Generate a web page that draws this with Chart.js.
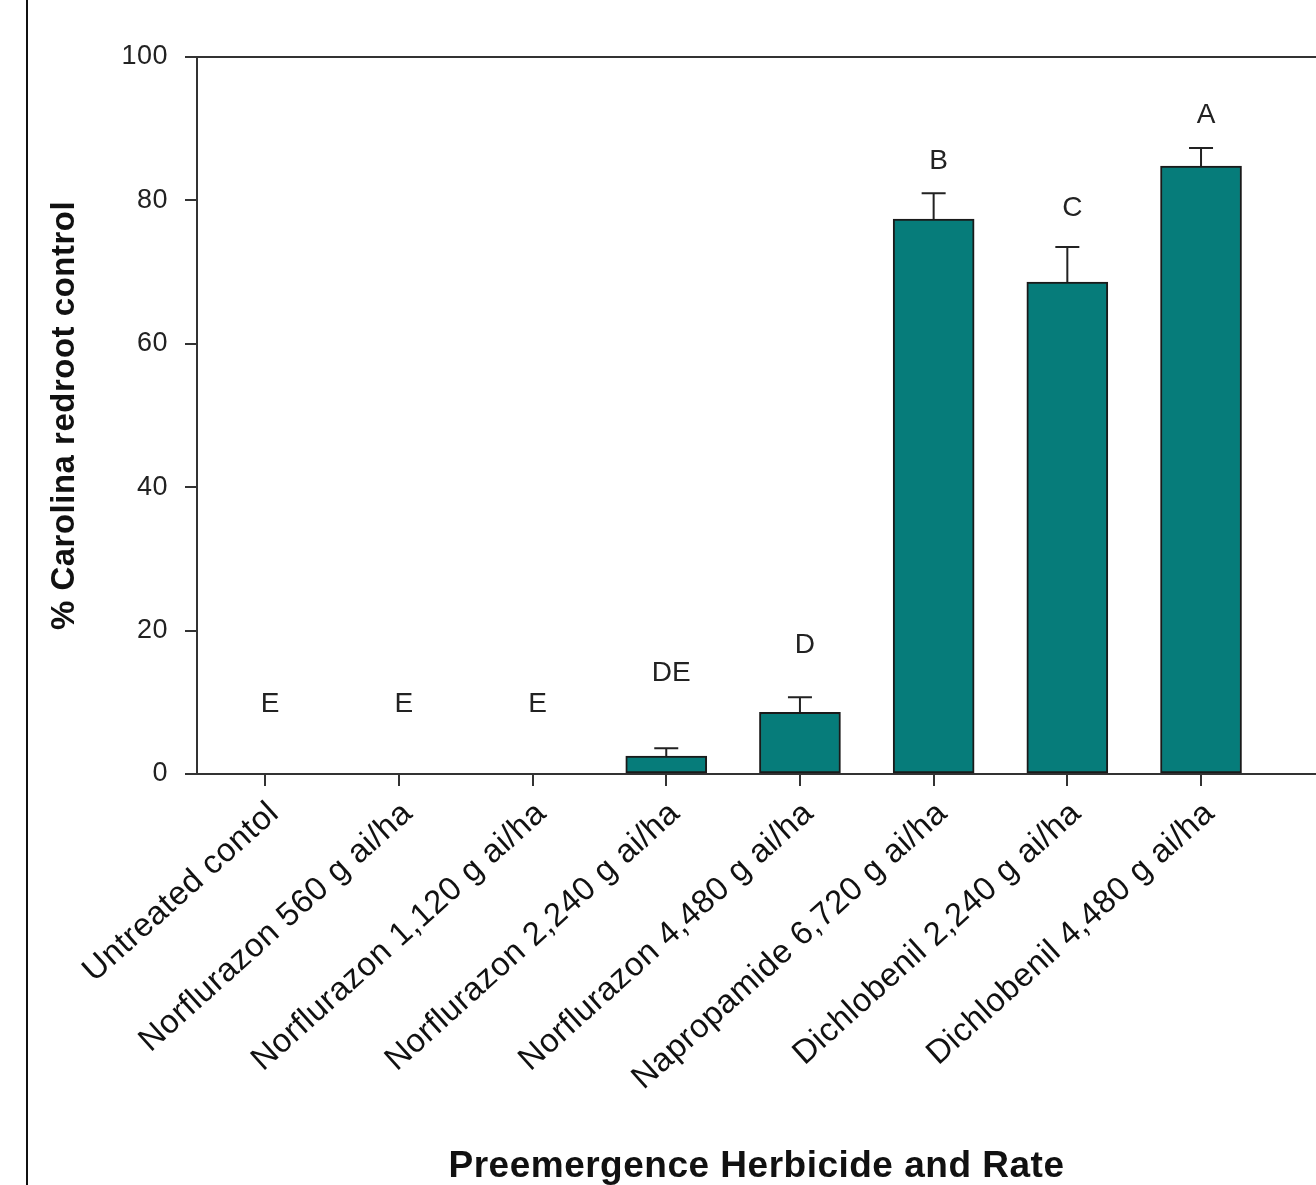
<!DOCTYPE html>
<html><head><meta charset="utf-8">
<script src="https://cdn.jsdelivr.net/npm/chart.js@4"></script>
<style>html,body{margin:0;padding:0;background:#fff}#wrap{width:1316px;height:1185px;position:relative}</style>
</head><body><div id="wrap"><canvas id="c"></canvas></div>
<script>
const categories = ['Untreated contol','Norflurazon 560 g ai/ha','Norflurazon 1,120 g ai/ha','Norflurazon 2,240 g ai/ha','Norflurazon 4,480 g ai/ha','Napropamide 6,720 g ai/ha','Dichlobenil 2,240 g ai/ha','Dichlobenil 4,480 g ai/ha'];
const means = [0, 0, 0, 2.5, 8.6, 77.4, 68.6, 84.8];
const errors = [0, 0, 0, 1.1, 2.1, 3.6, 4.9, 2.5];
const letters = ['E', 'E', 'E', 'DE', 'D', 'B', 'C', 'A'];
const letterY = [9.7, 9.7, 9.7, 14.1, 18.0, 85.4, 78.9, 91.9];
const yTicks = [0, 20, 40, 60, 80, 100];

const FONT = "'Liberation Sans', Arial, sans-serif";
const LINE = '#333333';

const decor = {
  id: 'decor',
  beforeDraw(chart) { chart.ctx.letterSpacing = '0.5px'; },
  beforeDatasetsDraw(chart) { chart.ctx.letterSpacing = '0px'; },
  afterDatasetsDraw(chart) {
    const {ctx, scales: {x, y}} = chart;
    ctx.save();
    ctx.strokeStyle = '#222';
    ctx.lineWidth = 2;
    means.forEach((m, i) => {
      if (!errors[i]) return;
      const px = x.getPixelForValue(i);
      const y0 = y.getPixelForValue(m);
      const y1 = y.getPixelForValue(m + errors[i]);
      ctx.beginPath();
      ctx.moveTo(px, y0); ctx.lineTo(px, y1);
      ctx.moveTo(px - 12, y1); ctx.lineTo(px + 12, y1);
      ctx.stroke();
    });
    ctx.fillStyle = '#222';
    ctx.font = '28px ' + FONT;
    ctx.textAlign = 'center';
    ctx.textBaseline = 'middle';
    letters.forEach((t, i) => {
      ctx.fillText(t, x.getPixelForValue(i) + 5, y.getPixelForValue(letterY[i]));
    });
    ctx.restore();
  },
  afterDraw(chart) {
    const {ctx, chartArea} = chart;
    ctx.save();
    ctx.strokeStyle = LINE;
    ctx.lineWidth = 2;
    ctx.beginPath();
    ctx.moveTo(chartArea.left - 12, chartArea.top);
    ctx.lineTo(chart.width, chartArea.top);
    ctx.stroke();
    ctx.strokeStyle = '#111';
    ctx.beginPath();
    ctx.moveTo(27, 0); ctx.lineTo(27, chart.height);
    ctx.stroke();
    ctx.restore();
  }
};

new Chart(document.getElementById('c'), {
  type: 'bar',
  data: {
    datasets: [{
      data: means.map((v, i) => ({x: i, y: v})),
      backgroundColor: '#067C7A',
      borderColor: '#1a1a1a',
      borderWidth: 2,
      borderSkipped: false,
      barThickness: 81
    }]
  },
  plugins: [decor],
  options: {
    responsive: true,
    maintainAspectRatio: false,
    animation: false,
    layout: {padding: {top: 57, left: 0, right: 0, bottom: 0}},
    plugins: {legend: {display: false}, tooltip: {enabled: false}},
    scales: {
      x: {
        type: 'linear',
        bounds: 'data',
        min: -0.51,
        max: 7.86,
        offset: false,
        afterBuildTicks: s => { s.ticks = categories.map((_, i) => ({value: i})); },
        afterFit: s => { s.height = 411; },
        grid: {offset: false, drawOnChartArea: false, drawTicks: true, tickLength: 12, color: LINE, lineWidth: 2},
        border: {display: true, color: LINE, width: 2},
        ticks: {
          autoSkip: false,
          minRotation: 42, maxRotation: 42,
          padding: 8,
          labelOffset: 9,
          color: '#111',
          font: {family: FONT, size: 33},
          callback: v => categories[v]
        },
        title: {display: true, text: 'Preemergence Herbicide and Rate', color: '#111',
          font: {family: FONT, size: 37, weight: 'bold', lineHeight: 1}, padding: {top: 0, bottom: 0}}
      },
      y: {
        min: 0, max: 100,
        afterBuildTicks: s => { s.ticks = yTicks.map(v => ({value: v})); },
        afterFit: s => { s.width = 197; },
        grid: {drawOnChartArea: false, drawTicks: true, tickLength: 12, color: LINE, lineWidth: 2},
        border: {display: true, color: LINE, width: 2},
        ticks: {padding: 17, color: '#222', font: {family: FONT, size: 27}},
        title: {display: true, text: '% Carolina redroot control', color: '#111',
          font: {family: FONT, size: 33, weight: 'bold', lineHeight: 1}, padding: {top: 48, bottom: 0}}
      }
    }
  }
});
</script></body></html>
